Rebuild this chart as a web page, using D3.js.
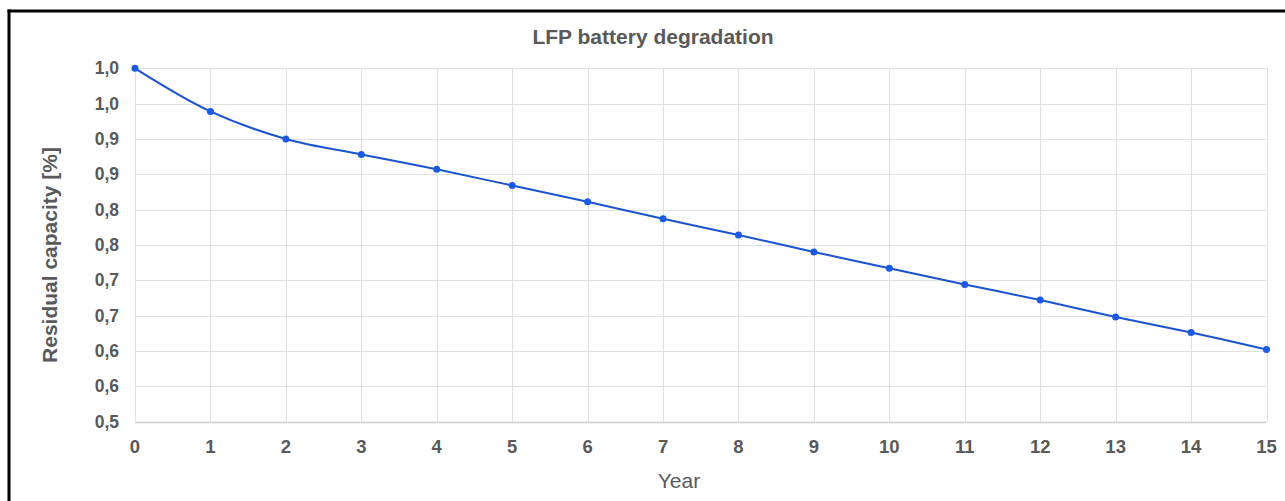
<!doctype html>
<html>
  <head>
    <script src="https://cdn.jsdelivr.net/npm/d3@7"></script>
    <style>
      body { margin: 0; background: #fff; }
      text { font-family: Arial, "Liberation Sans", sans-serif; }
    </style>
  </head>
  <body>
    <svg id="chart" width="1285" height="501"></svg>

    <script>
      // values
      var years = [0, 1, 2, 3, 4, 5, 6, 7, 8, 9, 10, 11, 12, 13, 14, 15];
      var capacity = [1.0, 0.939, 0.90, 0.878, 0.857, 0.834, 0.811, 0.787,
                      0.764, 0.740, 0.717, 0.694, 0.672, 0.648, 0.626, 0.602];
      var yTicks = [0.5, 0.55, 0.6, 0.65, 0.7, 0.75, 0.8, 0.85, 0.9, 0.95, 1.0];

      var title = "LFP battery degradation";
      var xTitle = "Year";
      var yTitle = "Residual capacity [%]";

      var svg = d3.select("#chart");
      var textColor = "#595959";
      var lineColor = "#1b53d0";

      var x = d3.scaleLinear().domain([0, 15]).range([135, 1266.5]);
      var y = d3.scaleLinear().domain([0.5, 1.0]).range([421.5, 68.3]);

      // frame: only left and top edges are visible
      svg.append("line")
        .attr("x1", 9).attr("x2", 9).attr("y1", 9.5).attr("y2", 501)
        .attr("stroke", "#000").attr("stroke-width", 3);
      svg.append("line")
        .attr("x1", 7.5).attr("x2", 1285).attr("y1", 11).attr("y2", 11)
        .attr("stroke", "#000").attr("stroke-width", 3);

      // grid
      svg.append("g").selectAll("line")
        .data(yTicks)
        .enter().append("line")
          .attr("x1", x(0)).attr("x2", x(15))
          .attr("y1", function(d) { return Math.round(y(d)) + 0.5; })
          .attr("y2", function(d) { return Math.round(y(d)) + 0.5; })
          .attr("stroke", function(d) { return d === 0.5 ? "#cfcfcf" : "#e0e0e0"; })
          .attr("stroke-width", function(d) { return d === 0.5 ? 1.5 : 1; });

      svg.append("g").selectAll("line")
        .data(years)
        .enter().append("line")
          .attr("x1", function(d) { return Math.round(x(d)) + 0.5; })
          .attr("x2", function(d) { return Math.round(x(d)) + 0.5; })
          .attr("y1", y(1.0)).attr("y2", y(0.5))
          .attr("stroke", "#e0e0e0");

      // y tick labels, one decimal with a comma
      var fmt = function(d) { return (Math.round(d * 10 + 1e-9) / 10).toFixed(1).replace(".", ","); };
      svg.append("g").selectAll("text")
        .data(yTicks)
        .enter().append("text")
          .attr("x", 119)
          .attr("y", function(d) { return y(d) + 6; })
          .attr("text-anchor", "end")
          .attr("font-size", 17.5)
          .attr("font-weight", "bold")
          .attr("fill", textColor)
          .text(fmt);

      // x tick labels
      svg.append("g").selectAll("text")
        .data(years)
        .enter().append("text")
          .attr("x", function(d) { return x(d); })
          .attr("y", 453)
          .attr("text-anchor", "middle")
          .attr("font-size", 18.5)
          .attr("font-weight", "bold")
          .attr("fill", textColor)
          .text(function(d) { return d; });

      // titles
      svg.append("text")
        .attr("x", 653).attr("y", 43.5)
        .attr("text-anchor", "middle")
        .attr("font-size", 21)
        .attr("font-weight", "bold")
        .attr("fill", textColor)
        .text(title);

      svg.append("text")
        .attr("x", 679).attr("y", 488)
        .attr("text-anchor", "middle")
        .attr("font-size", 21)
        .attr("fill", textColor)
        .text(xTitle);

      svg.append("text")
        .attr("transform", "translate(57,255) rotate(-90)")
        .attr("text-anchor", "middle")
        .attr("font-size", 21)
        .attr("font-weight", "bold")
        .attr("fill", textColor)
        .text(yTitle);

      // series
      var pts = years.map(function(d, i) { return [d, capacity[i]]; });
      var line = d3.line()
        .x(function(d) { return x(d[0]); })
        .y(function(d) { return y(d[1]); })
        .curve(d3.curveCatmullRom.alpha(0.5));

      svg.append("path")
        .datum(pts)
        .attr("d", line)
        .attr("fill", "none")
        .attr("stroke", lineColor)
        .attr("stroke-width", 2);

      svg.append("g").selectAll("circle")
        .data(pts)
        .enter().append("circle")
          .attr("cx", function(d) { return x(d[0]); })
          .attr("cy", function(d) { return y(d[1]); })
          .attr("r", 3.5)
          .attr("fill", "#1a5ae6");
    </script>
  </body>
</html>
